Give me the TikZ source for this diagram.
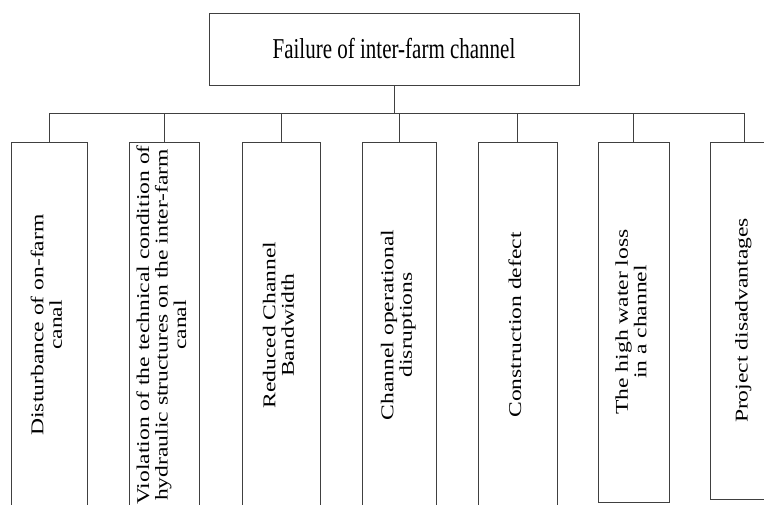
\documentclass[tikz,border=0pt]{standalone}
\usepackage{fontspec}
\setmainfont{Liberation Serif}
\usepackage{graphicx}
\newcommand{\vlab}[1]{\fontsize{18}{18.5}\selectfont\scalebox{1.31}[1]{\begin{tabular}{@{}c@{}}#1\end{tabular}}}
\begin{document}
\begin{tikzpicture}[x=1pt,y=-1pt,
  bx/.style={draw=black!75, line width=0.9pt, rectangle, inner sep=0pt},
  vt/.style={rotate=90, inner sep=0pt, anchor=center},
  link/.style={draw=black!75, line width=0.9pt}]
\useasboundingbox (0,0) rectangle (764,504);
\clip (0,0) rectangle (764,504);
% top box
\node[bx, minimum width=370, minimum height=72] (top) at (394,49) {};
\node[inner sep=0pt] (toptext) at (394,49) {\fontsize{21}{25}\selectfont\scalebox{1}[1.37]{Failure of inter-farm channel}};
% child boxes
\node[bx, minimum width=76, minimum height=366] (b1) at (49,325) {};
\node[bx, minimum width=70, minimum height=366] (b2) at (164,325) {};
\node[bx, minimum width=78, minimum height=366] (b3) at (281,325) {};
\node[bx, minimum width=74, minimum height=366] (b4) at (399,325) {};
\node[bx, minimum width=79, minimum height=366] (b5) at (517.5,325) {};
\node[bx, minimum width=71, minimum height=360] (b6) at (633.5,322) {};
\node[bx, minimum width=67, minimum height=357] (b7) at (744,320.5) {};
% texts
\node[vt] (t1) at (b1.center) {\vlab{Disturbance of on-farm\\canal}};
\node[vt] (t2) at (b2.center) {\vlab{Violation of the technical condition of\\hydraulic structures on the inter-farm\\canal}};
\node[vt] (t3) at (b3.center) {\vlab{Reduced Channel\\Bandwidth}};
\node[vt] (t4) at (b4.center) {\vlab{Channel operational\\disruptions}};
\node[vt] (t5) at (b5.center) {\vlab{Construction defect}};
\node[vt] (t6) at (b6.center) {\vlab{The high water loss\\in a channel}};
\node[vt] (t7) at (b7.center) {\vlab{Project disadvantages}};
% connectors
\coordinate (bus) at (394,113);
\draw[link] (top.south) -- (bus);
\foreach \b in {b1,b2,b3,b4,b5,b6,b7}{
  \draw[link] (bus) -| (\b.north);
}
\end{tikzpicture}
\end{document}
